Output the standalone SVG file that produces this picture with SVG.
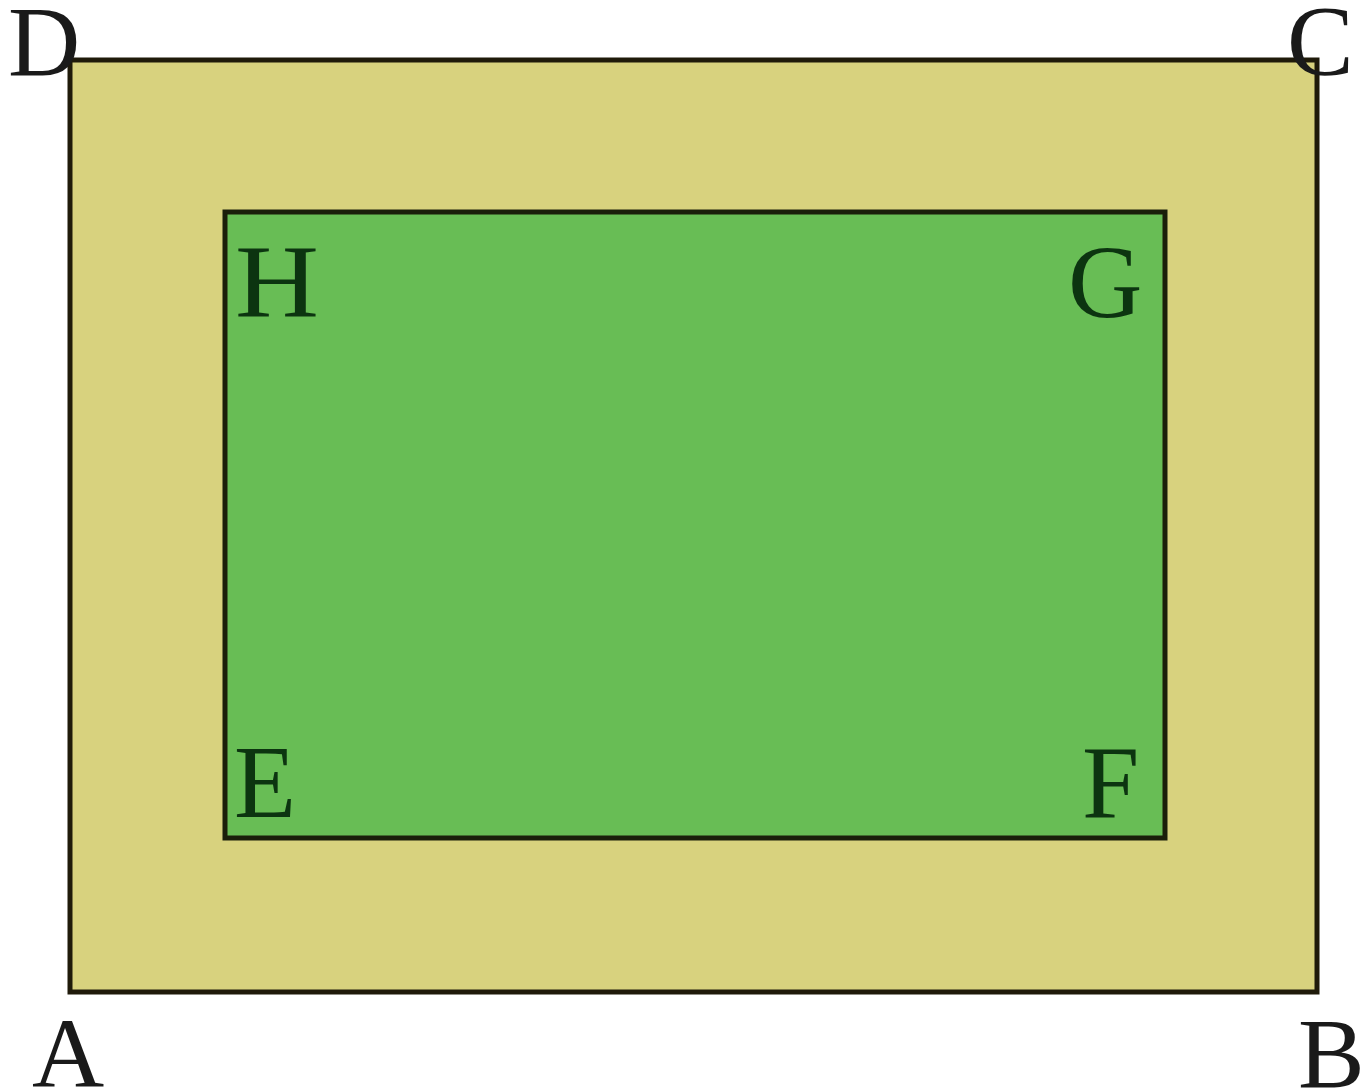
<svg xmlns="http://www.w3.org/2000/svg" width="1366" height="1090" viewBox="0 0 1366 1090">
<style>
.lbl{font-family:"Liberation Serif","Times New Roman",serif;font-size:100px;fill:#1a1a1a}
.in{font-family:"Liberation Serif","Times New Roman",serif;font-size:103px;fill:#0c3410}
</style>
<rect width="1366" height="1090" fill="#ffffff"/>
<g id="outer">
<rect x="70" y="60" width="1247" height="932" fill="#d8d27e" stroke="#1f1a0a" stroke-width="5"/>
</g>
<g id="inner">
<rect x="225" y="212" width="940" height="626" fill="#68bd55" stroke="#1a1f0a" stroke-width="5"/>
</g>
<g id="labels">
<text class="lbl" x="8" y="75">D</text>
<text class="lbl" x="1287" y="74">C</text>
<text class="lbl" x="32" y="1087">A</text>
<text class="lbl" x="1298" y="1087">B</text>
<text class="in" x="235" y="317" textLength="84" lengthAdjust="spacingAndGlyphs">H</text>
<text class="in" x="1068" y="317">G</text>
<text class="in" x="234" y="817" textLength="62" lengthAdjust="spacingAndGlyphs">E</text>
<text class="in" x="1082" y="817">F</text>
</g>
</svg>
